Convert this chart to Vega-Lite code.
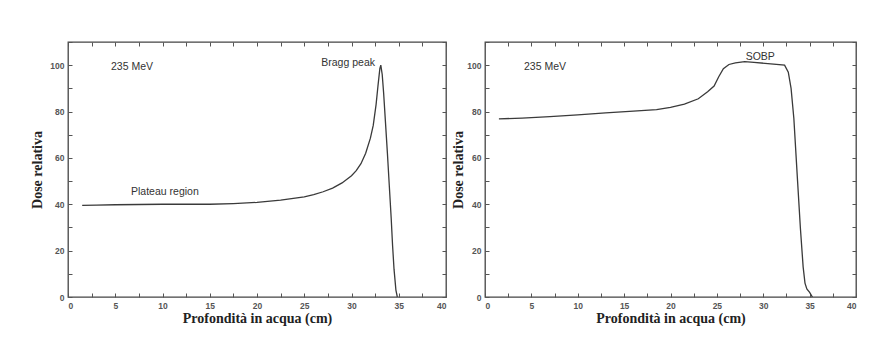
{
  "$schema": "https://vega.github.io/schema/vega-lite/v6.json",
  "background": "white",
  "padding": {"left": 30, "top": 37, "right": 10, "bottom": 10},
  "spacing": 39,
  "bounds": "flush",
  "config": {
    "view": {"stroke": "#444", "strokeWidth": 1.3},
    "axis": {
      "grid": false,
      "domain": false,
      "tickColor": "#555",
      "tickWidth": 1,
      "tickSize": -4,
      "labelFont": "Liberation Sans",
      "labelFontSize": 8.5,
      "labelFontWeight": "bold",
      "labelColor": "#555",
      "labelOverlap": false,
      "titleFont": "Liberation Serif",
      "titleFontSize": 14,
      "titleFontWeight": "bold",
      "titleColor": "#222"
    },
    "text": {"font": "Liberation Sans", "fontSize": 10.5, "color": "#333", "baseline": "middle", "align": "left"}
  },
  "datasets": {
    "bragg": [
      {"depth": 1.5, "dose": 39.5}, {"depth": 3, "dose": 39.6}, {"depth": 5, "dose": 39.8}, {"depth": 7.5, "dose": 39.9},
      {"depth": 10, "dose": 40}, {"depth": 12.5, "dose": 40}, {"depth": 15, "dose": 40}, {"depth": 17.5, "dose": 40.3},
      {"depth": 20, "dose": 40.8}, {"depth": 22.5, "dose": 41.8}, {"depth": 25, "dose": 43.2}, {"depth": 26, "dose": 44.2},
      {"depth": 27, "dose": 45.4}, {"depth": 28, "dose": 47}, {"depth": 29, "dose": 49.2}, {"depth": 30, "dose": 52.3},
      {"depth": 30.5, "dose": 54.5}, {"depth": 31, "dose": 57.5}, {"depth": 31.5, "dose": 62}, {"depth": 32, "dose": 68.5},
      {"depth": 32.3, "dose": 74}, {"depth": 32.6, "dose": 83}, {"depth": 32.8, "dose": 91}, {"depth": 33, "dose": 98.5},
      {"depth": 33.1, "dose": 100}, {"depth": 33.25, "dose": 96}, {"depth": 33.4, "dose": 88}, {"depth": 33.6, "dose": 75},
      {"depth": 33.8, "dose": 62}, {"depth": 34, "dose": 48}, {"depth": 34.2, "dose": 34}, {"depth": 34.35, "dose": 22},
      {"depth": 34.5, "dose": 12}, {"depth": 34.7, "dose": 3}, {"depth": 34.85, "dose": 0}
    ],
    "sobp": [
      {"depth": 1.5, "dose": 76.8}, {"depth": 4, "dose": 77.2}, {"depth": 7, "dose": 77.8}, {"depth": 10, "dose": 78.6},
      {"depth": 13, "dose": 79.4}, {"depth": 16, "dose": 80.2}, {"depth": 18.5, "dose": 80.8}, {"depth": 20, "dose": 81.8},
      {"depth": 21.5, "dose": 83.2}, {"depth": 23, "dose": 85.5}, {"depth": 24, "dose": 88.5}, {"depth": 24.7, "dose": 91},
      {"depth": 25.2, "dose": 95}, {"depth": 25.7, "dose": 98.5}, {"depth": 26.3, "dose": 100.3}, {"depth": 27, "dose": 101},
      {"depth": 28, "dose": 101.5}, {"depth": 29, "dose": 101.2}, {"depth": 30.5, "dose": 100.7}, {"depth": 32.3, "dose": 100},
      {"depth": 32.7, "dose": 97}, {"depth": 33, "dose": 90}, {"depth": 33.3, "dose": 77}, {"depth": 33.7, "dose": 50},
      {"depth": 34, "dose": 30}, {"depth": 34.3, "dose": 13}, {"depth": 34.5, "dose": 6}, {"depth": 34.7, "dose": 3.5},
      {"depth": 35, "dose": 2}, {"depth": 35.3, "dose": 0}
    ],
    "ann1": [
      {"depth": 4.55, "dose": 99.1, "label": "235 MeV"},
      {"depth": 26.8, "dose": 100.9, "label": "Bragg peak"},
      {"depth": 6.67, "dose": 45.3, "label": "Plateau region"}
    ],
    "ann2": [
      {"depth": 4.2, "dose": 99.1, "label": "235 MeV"},
      {"depth": 28.1, "dose": 103.7, "label": "SOBP"}
    ]
  },
  "hconcat": [
    {
      "width": 378,
      "height": 255,
      "layer": [
        {
          "data": {"name": "bragg"},
          "mark": {"type": "line", "color": "#3a3a3a", "strokeWidth": 1.3},
          "encoding": {
            "x": {"field": "depth", "type": "quantitative", "scale": {"domain": [0, 40], "nice": false},
              "axis": {"orient": "bottom", "title": "Profondità in acqua (cm)", "values": [0,2.5,5,7.5,10,12.5,15,17.5,20,22.5,25,27.5,30,32.5,35,37.5,40],
                "labelExpr": "datum.value % 5 === 0 ? datum.label : ''", "labelPadding": 8, "titlePadding": 2}},
            "y": {"field": "dose", "type": "quantitative", "scale": {"domain": [0, 110], "nice": false},
              "axis": {"orient": "left", "title": "Dose relativa", "values": [0,10,20,30,40,50,60,70,80,90,100,110],
                "labelExpr": "datum.value % 20 === 0 && datum.value <= 100 ? datum.label : ''", "labelPadding": 8, "titlePadding": 5}}
          }
        },
        {
          "data": {"name": "ann1"},
          "mark": {"type": "text"},
          "encoding": {
            "x": {"field": "depth", "type": "quantitative", "scale": {"domain": [0, 40], "nice": false},
              "axis": {"orient": "top", "title": null, "labels": false, "values": [0,2.5,5,7.5,10,12.5,15,17.5,20,22.5,25,27.5,30,32.5,35,37.5,40]}},
            "y": {"field": "dose", "type": "quantitative", "scale": {"domain": [0, 110], "nice": false},
              "axis": {"orient": "right", "title": null, "labels": false, "values": [0,10,20,30,40,50,60,70,80,90,100,110]}},
            "text": {"field": "label"}
          }
        }
      ],
      "resolve": {"axis": {"x": "independent", "y": "independent"}}
    },
    {
      "width": 371,
      "height": 255,
      "layer": [
        {
          "data": {"name": "sobp"},
          "mark": {"type": "line", "color": "#3a3a3a", "strokeWidth": 1.3},
          "encoding": {
            "x": {"field": "depth", "type": "quantitative", "scale": {"domain": [0, 40], "nice": false},
              "axis": {"orient": "bottom", "title": "Profondità in acqua (cm)", "values": [0,2.5,5,7.5,10,12.5,15,17.5,20,22.5,25,27.5,30,32.5,35,37.5,40],
                "labelExpr": "datum.value % 5 === 0 ? datum.label : ''", "labelPadding": 8, "titlePadding": 2}},
            "y": {"field": "dose", "type": "quantitative", "scale": {"domain": [0, 110], "nice": false},
              "axis": {"orient": "left", "title": "Dose relativa", "values": [0,10,20,30,40,50,60,70,80,90,100,110],
                "labelExpr": "datum.value % 20 === 0 && datum.value <= 100 ? datum.label : ''", "labelPadding": 8, "titlePadding": 1}}
          }
        },
        {
          "data": {"name": "ann2"},
          "mark": {"type": "text"},
          "encoding": {
            "x": {"field": "depth", "type": "quantitative", "scale": {"domain": [0, 40], "nice": false},
              "axis": {"orient": "top", "title": null, "labels": false, "values": [0,2.5,5,7.5,10,12.5,15,17.5,20,22.5,25,27.5,30,32.5,35,37.5,40]}},
            "y": {"field": "dose", "type": "quantitative", "scale": {"domain": [0, 110], "nice": false},
              "axis": {"orient": "right", "title": null, "labels": false, "values": [0,10,20,30,40,50,60,70,80,90,100,110]}},
            "text": {"field": "label"}
          }
        }
      ],
      "resolve": {"axis": {"x": "independent", "y": "independent"}}
    }
  ]
}
